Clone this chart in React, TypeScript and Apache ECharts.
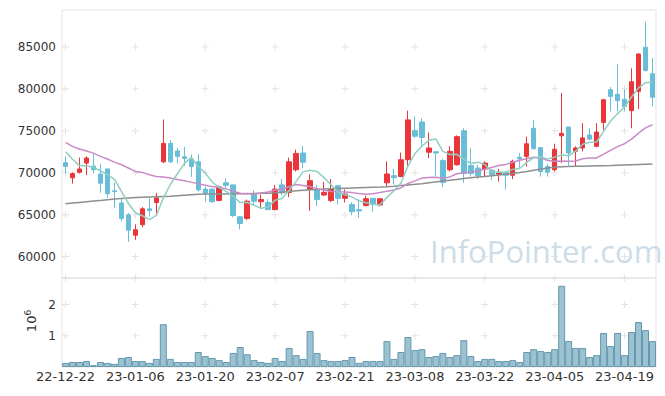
import React, { useEffect, useRef } from 'react';
import * as echarts from 'echarts';

const dates = [
  '22-12-22','22-12-23','22-12-26','22-12-27','22-12-28','22-12-29',
  '23-01-02','23-01-03','23-01-04','23-01-05','23-01-06','23-01-09','23-01-10','23-01-11','23-01-12','23-01-13',
  '23-01-16','23-01-17','23-01-18','23-01-19','23-01-20','23-01-25','23-01-26','23-01-27','23-01-30','23-01-31',
  '23-02-01','23-02-02','23-02-03','23-02-06','23-02-07','23-02-08','23-02-09','23-02-10','23-02-13','23-02-14',
  '23-02-15','23-02-16','23-02-17','23-02-20','23-02-21','23-02-22','23-02-23','23-02-24','23-02-27','23-02-28',
  '23-03-02','23-03-03','23-03-06','23-03-07','23-03-08','23-03-09','23-03-10','23-03-13','23-03-14','23-03-15',
  '23-03-16','23-03-17','23-03-20','23-03-21','23-03-22','23-03-23','23-03-24','23-03-27','23-03-28','23-03-29',
  '23-03-30','23-03-31','23-04-03','23-04-04','23-04-05','23-04-06','23-04-07','23-04-10','23-04-11','23-04-12',
  '23-04-13','23-04-14','23-04-17','23-04-18','23-04-19','23-04-20','23-04-21','23-04-24','23-04-25',
];

const opens = [
  71200,69400,70050,71150,70800,69850,70450,67850,66400,65000,
  62550,63800,65700,66450,71300,73500,72600,71900,71600,71300,
  68050,68050,66700,68800,68550,64750,64550,67400,66550,66450,
  65600,68550,67650,70350,72350,68000,68050,67350,66700,68450,
  66950,66200,65600,66100,66950,66150,68800,69650,69550,71550,
  75000,76050,72450,72500,71450,70350,70950,75000,70850,70550,
  70450,70300,69800,70050,69700,71850,71950,75300,73000,70750,
  70350,74400,75450,72550,72950,74500,73150,76000,79900,79350,
  78750,77400,79700,84950,81800,
];
const closes = [
  70750,69900,70450,71750,70350,68750,67500,67750,64550,63150,
  63200,65700,65500,67000,73500,71300,71950,71700,70750,67950,
  67550,66550,68300,68500,64900,63950,66600,66600,66800,65600,
  68050,67600,71300,72300,71250,69050,66800,67650,68050,66950,
  67450,65350,65450,66900,66200,66900,69850,69400,71550,76300,
  74350,74200,72950,72350,68850,72550,74300,69900,69900,69650,
  71150,69750,70050,69700,71350,71650,73450,72850,70150,70050,
  72800,74700,72350,72950,74150,74000,74850,78700,79100,78600,
  77900,80850,84150,82200,79000,
];
const highs = [
  71950,70050,71800,71950,72250,71050,70500,68800,67000,65200,
  63850,65900,66950,67600,76350,73900,72950,73100,72200,72200,
  68350,68100,68450,69350,68600,64800,66800,67900,67400,66850,
  68550,69250,71800,72750,73200,69800,68550,68900,69250,68500,
  68000,66500,66850,67250,67000,66950,71350,70450,72400,77400,
  76700,76500,74800,72550,71650,73150,74450,75300,72950,70950,
  71350,70400,70450,70150,71550,72350,74300,76300,73050,71050,
  73450,79500,75450,73150,75900,75300,75900,78800,80200,82950,
  79950,82450,84250,88000,83650,
];
const lows = [
  69950,68700,69900,69700,69950,67600,67000,65800,64200,61750,
  62000,63500,64800,64850,71150,71150,71150,70800,69500,67750,
  66500,66400,66600,68150,64700,63250,64350,66050,65700,65550,
  65550,67300,67100,70150,70550,65450,66050,67200,66500,66200,
  66450,64950,64600,66000,65350,66000,68300,68600,69450,70850,
  74150,73150,71750,69650,68300,70150,70850,68800,69550,69250,
  69550,69100,68950,68000,69250,70450,70750,72800,69550,69550,
  70150,71150,70850,70750,72550,73900,73050,75100,77300,77300,
  77300,75300,77600,82050,77900,
];

// volume in millions of shares
const volumes = [
  0.13,0.16,0.16,0.19,0.06,0.16,0.13,0.10,0.29,0.32,
  0.19,0.19,0.13,0.26,1.37,0.26,0.16,0.16,0.16,0.48,
  0.35,0.29,0.22,0.16,0.45,0.64,0.41,0.22,0.16,0.13,
  0.29,0.19,0.61,0.38,0.26,1.15,0.45,0.22,0.19,0.19,
  0.22,0.32,0.13,0.19,0.19,0.19,0.83,0.26,0.48,0.96,
  0.54,0.57,0.32,0.35,0.45,0.32,0.38,0.86,0.35,0.19,
  0.26,0.26,0.19,0.19,0.22,0.16,0.48,0.57,0.51,0.48,
  0.57,2.60,0.83,0.61,0.61,0.32,0.38,1.09,0.67,1.09,
  0.38,1.12,1.44,1.18,0.83,
];

// moving-average values that depend on days before the window
const ma5Head = [72500, 71600, 70850, 70800];
const ma20Head = [
  73610,73140,72820,72580,72340,71950,71630,71270,70950,70560,
  70160,70040,69760,69560,69480,69370,69200,69050,68880,
];
const ma60 = [
  66300,66380,66460,66540,66620,66700,66780,66860,66930,67000,
  67040,67080,67110,67140,67170,67200,67260,67320,67380,67430,
  67460,67470,67470,67470,67480,67490,67500,67520,67540,67560,
  67600,67680,67760,67840,67920,67970,68010,68050,68090,68120,
  68150,68180,68210,68240,68270,68300,68340,68400,68470,68550,
  68620,68700,68800,68900,69000,69100,69200,69300,69400,69480,
  69560,69650,69740,69830,69920,70020,70150,70300,70430,70550,
  70640,70700,70740,70760,70780,70800,70820,70840,70860,70890,
  70920,70950,70980,71010,71040,
];

const priceTicks = [60000, 65000, 70000, 75000, 80000, 85000];
const volumeTicks = [1, 2];
const labelEvery = 10;

function movingAverage(n: number, head: number[]) {
  return closes.map((_, i) => {
    if (i < n - 1) return head[i];
    let s = 0;
    for (let k = i - n + 1; k <= i; k++) s += closes[k];
    return Math.round(s / n);
  });
}

export default function App() {
  const ref = useRef<HTMLDivElement>(null);
  useEffect(() => {
    const chart = echarts.init(ref.current!, null, { renderer: 'svg' });
    const ma5 = movingAverage(5, ma5Head);
    const ma20 = movingAverage(20, ma20Head);
    const candles = dates.map((_, i) => [opens[i], closes[i], lows[i], highs[i]]);
    const crossCols = dates.map((_, i) => i).filter((i) => i % labelEvery === 0);
    const priceCross: number[][] = [];
    crossCols.forEach((c) => priceTicks.forEach((v) => priceCross.push([c, v])));
    const volMax = 2.85;
    const volCross: number[][] = [];
    crossCols.forEach((c) => [...volumeTicks, volMax].forEach((v) => volCross.push([c, v])));
    const crossSymbol = 'path://M3,0h1v7h-1z M0,3h7v1h-7z';
    const up = '#ea3539';
    const down = '#69bed7';
    const plain = (v: number) => String(v);

    chart.setOption({
      animation: false,
      backgroundColor: '#ffffff',
      grid: [
        { left: 62, top: 10, width: 594, height: 268, show: true, borderColor: '#e4e4e4', borderWidth: 1 },
        { left: 62, top: 278, width: 594, height: 89, show: true, borderColor: '#e4e4e4', borderWidth: 1 },
      ],
      xAxis: [
        {
          type: 'category', gridIndex: 0, data: dates, boundaryGap: true,
          axisLine: { show: false }, axisTick: { show: false }, axisLabel: { show: false }, splitLine: { show: false },
        },
        {
          type: 'category', gridIndex: 1, data: dates, boundaryGap: true,
          axisLine: { show: false }, axisTick: { show: false }, splitLine: { show: false },
          axisLabel: { interval: labelEvery - 1, fontSize: 13, color: '#333', margin: 3, fontFamily: 'DejaVu Sans' },
        },
      ],
      yAxis: [
        {
          type: 'value', gridIndex: 0, min: 57450, max: 89400,
          axisLine: { show: false }, axisTick: { show: false }, splitLine: { show: false },
          axisLabel: { customValues: priceTicks, formatter: plain, fontSize: 12, color: '#333', margin: 6, fontFamily: 'DejaVu Sans' },
        },
        {
          type: 'value', gridIndex: 1, min: 0, max: volMax,
          axisLine: { show: false }, axisTick: { show: false }, splitLine: { show: false },
          axisLabel: { customValues: volumeTicks, formatter: plain, fontSize: 12, color: '#333', margin: 6, fontFamily: 'DejaVu Sans' },
        },
      ],
      graphic: [
        {
          type: 'text', left: 430, top: 235, z: 0, silent: true,
          style: { text: 'InfoPointer.com', font: '31px "Open Sans"', fill: '#cddde8' },
        },
        {
          type: 'text', x: 31, y: 321, rotation: Math.PI / 2, silent: true,
          style: {
            text: '{a|10}{b|6}', align: 'center', verticalAlign: 'middle',
            rich: {
              a: { fontSize: 13, fill: '#333', fontFamily: 'DejaVu Sans', lineHeight: 16 },
              b: { fontSize: 9, fill: '#333', fontFamily: 'DejaVu Sans', verticalAlign: 'top', lineHeight: 16 },
            },
          },
        },
      ],
      series: [
        {
          type: 'scatter', xAxisIndex: 0, yAxisIndex: 0, data: priceCross, symbol: crossSymbol, symbolSize: 7,
          itemStyle: { color: '#dcdcdc' }, silent: true, z: 1,
        },
        {
          type: 'scatter', xAxisIndex: 1, yAxisIndex: 1, data: volCross, symbol: crossSymbol, symbolSize: 7,
          itemStyle: { color: '#dcdcdc' }, silent: true, z: 1,
        },
        {
          type: 'candlestick', xAxisIndex: 0, yAxisIndex: 0, data: candles, barWidth: 5, z: 3,
          itemStyle: { color: up, color0: down, borderColor: up, borderColor0: down, borderWidth: 1 },
        },
        {
          type: 'line', xAxisIndex: 0, yAxisIndex: 0, data: ma60, showSymbol: false, z: 4,
          lineStyle: { color: '#8e8e8e', width: 1.5 },
        },
        {
          type: 'line', xAxisIndex: 0, yAxisIndex: 0, data: ma20, showSymbol: false, z: 4,
          lineStyle: { color: '#c98bc6', width: 1.5 },
        },
        {
          type: 'line', xAxisIndex: 0, yAxisIndex: 0, data: ma5, showSymbol: false, z: 4,
          lineStyle: { color: '#8fcfc2', width: 1.5 },
        },
        {
          type: 'bar', xAxisIndex: 1, yAxisIndex: 1, data: volumes, barWidth: '100%', z: 3,
          itemStyle: { color: '#9cc2d2', borderColor: '#6498af', borderWidth: 1 },
        },
      ],
    });
    return () => chart.dispose();
  }, []);
  return <div ref={ref} style={{ position: 'fixed', left: 0, top: 0, width: 665, height: 396 }} />;
}
